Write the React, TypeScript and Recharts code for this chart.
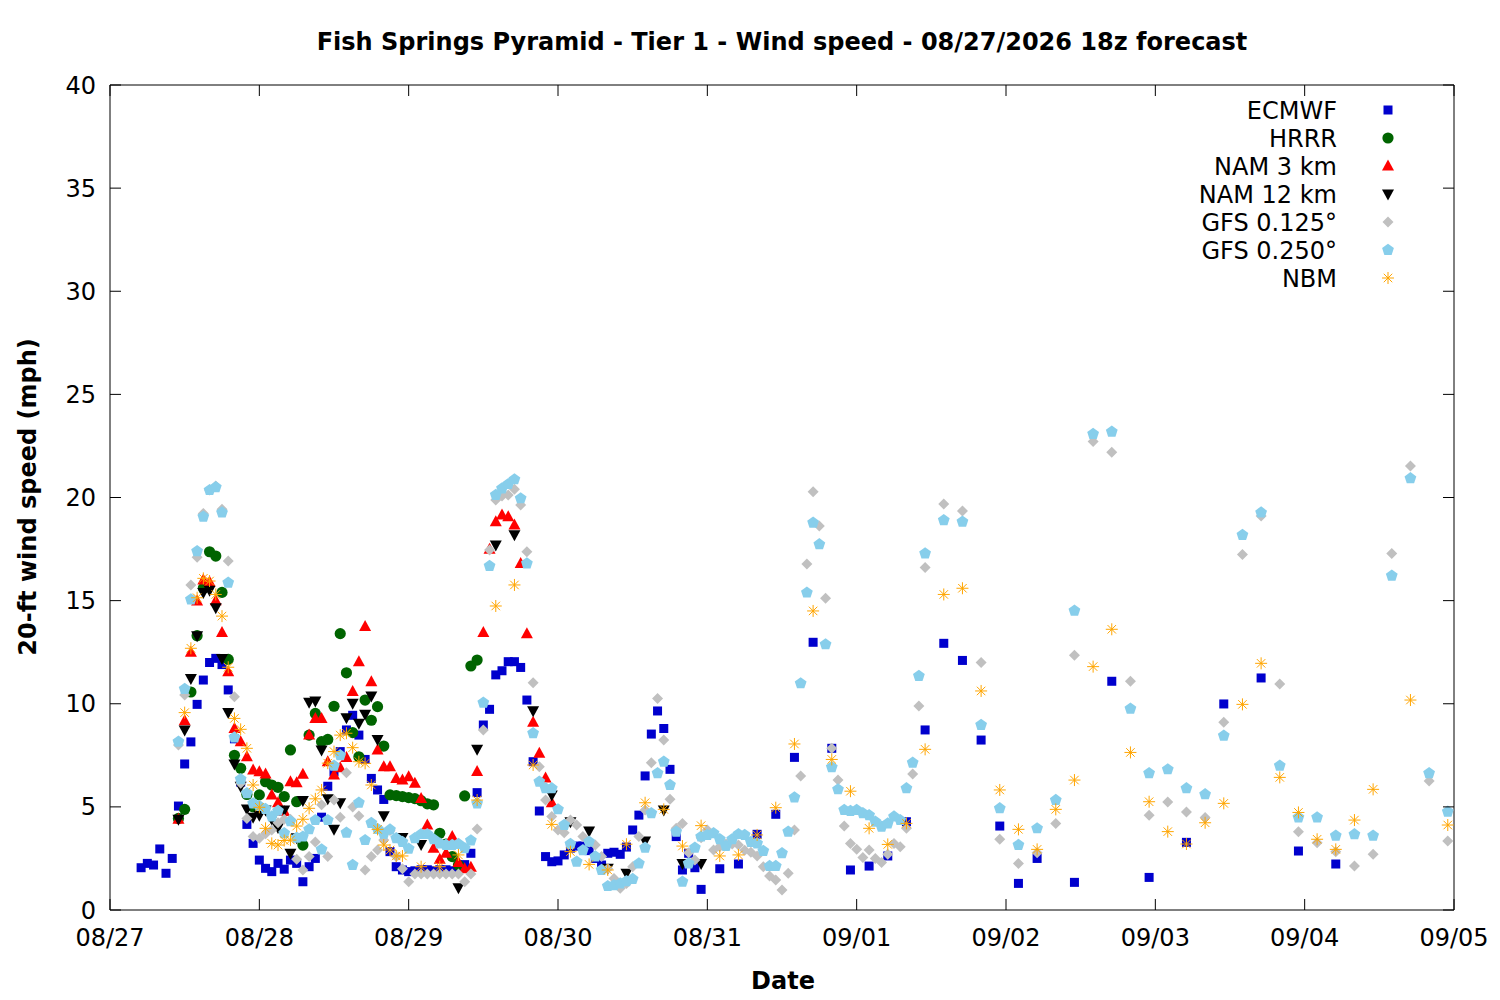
import React from 'react';
import { ScatterChart, Scatter, XAxis, YAxis, ReferenceArea, Legend } from 'recharts';

// hours since 08/27 00z
const dateTicks = [0, 24, 48, 72, 96, 120, 144, 168, 192, 216];
const dateLabels = ['08/27', '08/28', '08/29', '08/30', '08/31', '09/01', '09/02', '09/03', '09/04', '09/05'];
const speedTicks = [0, 5, 10, 15, 20, 25, 30, 35, 40];

const ecmwf: [number, number][] = [
  [5, 2.05], [6, 2.26], [7, 2.18], [8, 2.96], [9, 1.78], [10, 2.5], [11, 5.04], [12, 7.08], [13, 8.15], [14, 9.97],
  [15, 11.15], [16, 12.0], [17, 12.2], [18, 11.9], [19, 10.67], [20, 8.3], [21, 6.2], [22, 4.15], [23, 3.23], [24, 2.42],
  [25, 2.02], [26, 1.86], [27, 2.26], [28, 1.98], [29, 2.42], [30, 2.26], [31, 1.37], [32, 2.1], [33, 2.5], [34, 4.5],
  [35, 6.0], [36, 6.7], [37, 7.68], [38, 8.73], [39, 9.44], [40, 8.48], [41, 7.3], [42, 6.38], [43, 5.82], [44, 5.36],
  [45, 2.83], [46, 2.1], [47, 1.94], [48, 1.86], [49, 1.9], [50, 1.95], [51, 1.95], [52, 1.9], [53, 1.95], [54, 1.95],
  [55, 1.9], [56, 1.95], [57, 2.2], [58, 2.75], [59, 5.69], [60, 8.97], [61, 9.73], [62, 11.4], [63, 11.6], [64, 12.04],
  [65, 12.04], [66, 11.76], [67, 10.18], [68, 7.19], [69, 4.8], [70, 2.59], [71, 2.34], [72, 2.38], [73, 2.67], [74, 3.0],
  [75, 3.1], [76, 3.1], [77, 2.88], [78, 2.5], [79, 2.18], [80, 2.75], [81, 2.8], [82, 2.7], [83, 3.05], [84, 3.88],
  [85, 4.6], [86, 6.5], [87, 8.53], [88, 9.65], [89, 8.8], [90, 6.82], [91, 3.56], [92, 1.94], [93, 2.75], [94, 2.05],
  [95, 1.0], [98, 2.0], [101, 2.23], [104, 3.67], [107, 4.64], [110, 7.4], [113, 12.98], [116, 7.84], [119, 1.94],
  [122, 2.13], [125, 2.62], [128, 4.28], [131, 8.73], [134, 12.93], [137, 12.1], [140, 8.24], [143, 4.07], [146, 1.29],
  [149, 2.5], [155, 1.34], [161, 11.09], [167, 1.58], [173, 3.28], [179, 9.99], [185, 11.25], [191, 2.86], [197, 2.23],
];

const hrrr: [number, number][] = [
  [11, 4.44], [12, 4.88], [13, 10.57], [14, 13.3], [15, 15.6], [16, 17.37], [17, 17.16], [18, 15.4], [19, 12.15],
  [20, 7.5], [21, 6.87], [22, 5.6], [23, 5.0], [24, 5.58], [25, 6.22], [26, 6.06], [27, 5.95], [28, 5.5], [29, 7.76],
  [30, 5.25], [31, 3.15], [32, 8.48], [33, 9.53], [34, 8.16], [35, 8.27], [36, 9.88], [37, 13.4], [38, 11.5], [39, 8.6],
  [40, 7.43], [41, 10.18], [42, 9.2], [43, 9.86], [44, 7.95], [45, 5.58], [46, 5.55], [47, 5.5], [48, 5.45], [49, 5.4],
  [50, 5.3], [51, 5.15], [52, 5.1], [53, 3.72], [54, 3.2], [55, 2.59], [56, 2.18], [57, 5.53], [58, 11.83], [59, 12.12],
];

const nam3: [number, number][] = [
  [11, 4.4], [12, 9.18], [13, 12.5], [14, 14.98], [15, 16.0], [16, 15.9], [17, 15.0], [18, 13.45], [19, 11.55],
  [20, 8.8], [21, 8.16], [22, 7.43], [23, 6.79], [24, 6.7], [25, 6.6], [26, 5.58], [27, 5.2], [28, 4.77], [29, 6.22],
  [30, 6.17], [31, 6.58], [32, 8.48], [33, 9.29], [34, 9.29], [35, 7.19], [36, 6.55], [37, 6.9], [38, 7.4], [39, 10.59],
  [40, 12.04], [41, 13.74], [42, 11.07], [43, 7.76], [44, 6.95], [45, 6.95], [46, 6.38], [47, 6.3], [48, 6.46], [49, 6.14],
  [50, 5.41], [51, 4.12], [52, 2.99], [53, 2.46], [54, 2.75], [55, 3.56], [56, 2.3], [57, 2.0], [58, 2.07], [59, 6.71],
  [60, 13.45], [61, 17.49], [62, 18.83], [63, 19.15], [64, 19.07], [65, 18.67], [66, 16.8], [67, 13.4], [68, 9.1],
  [69, 7.6], [70, 6.4], [71, 5.2],
];

const nam12: [number, number][] = [
  [11, 4.4], [12, 8.73], [13, 11.23], [14, 13.3], [15, 15.4], [16, 15.5], [17, 14.66], [18, 12.2], [19, 9.57],
  [20, 7.08], [21, 6.0], [22, 4.9], [23, 4.5], [24, 4.6], [25, 4.85], [26, 4.4], [27, 4.0], [28, 4.85], [29, 2.75],
  [30, 3.5], [31, 5.31], [32, 10.07], [33, 10.13], [34, 7.76], [35, 5.4], [36, 3.91], [37, 5.2], [38, 9.32], [39, 10.02],
  [40, 9.05], [41, 9.49], [42, 10.38], [43, 8.27], [44, 4.57], [47, 3.51], [50, 3.18], [56, 1.08], [59, 7.79], [62, 17.7],
  [65, 18.2], [68, 9.66], [71, 5.58], [74, 4.28], [77, 3.83], [80, 2.02], [83, 1.78], [86, 3.35], [89, 4.85], [92, 2.26],
  [95, 2.26],
];

const gfs125: [number, number][] = [
  [11, 8.0], [12, 10.42], [13, 15.76], [14, 17.1], [15, 19.23], [16, 20.36], [17, 20.56], [18, 19.43], [19, 16.92],
  [20, 10.34], [21, 6.14], [22, 4.44], [23, 3.56], [24, 3.48], [25, 3.7], [26, 3.88], [27, 4.23], [28, 4.4], [29, 4.4],
  [30, 2.46], [31, 1.94], [32, 2.59], [33, 3.3], [34, 5.1], [35, 2.6], [36, 5.33], [37, 4.5], [38, 6.66], [39, 5.0],
  [40, 4.56], [41, 1.94], [42, 2.6], [43, 2.91], [44, 3.4], [45, 3.85], [46, 2.6], [47, 2.0], [48, 1.37], [49, 1.75],
  [50, 1.75], [51, 1.75], [52, 1.75], [53, 1.75], [54, 1.75], [55, 1.75], [56, 1.75], [57, 1.37], [58, 1.75], [59, 3.93],
  [60, 8.73], [61, 17.45], [62, 19.88], [63, 20.07], [64, 20.12], [65, 20.4], [66, 19.64], [67, 17.37], [68, 11.02],
  [69, 6.95], [70, 5.33], [71, 4.53], [72, 3.88], [73, 3.75], [74, 4.36], [75, 4.12], [76, 3.56], [77, 3.3], [78, 3.15],
  [79, 2.59], [80, 2.0], [81, 1.53], [82, 1.05], [83, 1.29], [84, 2.1], [85, 3.56], [86, 4.85], [87, 7.14], [88, 10.26],
  [89, 8.24], [90, 5.37], [91, 3.96], [92, 4.2], [93, 2.78], [94, 2.42], [95, 3.5], [96, 3.88], [97, 2.91], [98, 3.07],
  [99, 3.2], [100, 3.2], [101, 3.15], [102, 2.9], [103, 2.8], [104, 2.62], [105, 2.1], [106, 1.65], [107, 1.45],
  [108, 0.97], [109, 1.78], [110, 3.88], [111, 6.5], [112, 16.78], [113, 20.28], [114, 18.62], [115, 15.11], [116, 7.84],
  [117, 6.3], [118, 4.07], [119, 3.23], [120, 2.94], [121, 2.55], [122, 2.91], [123, 2.5], [124, 2.3], [125, 2.7],
  [126, 3.23], [127, 3.07], [128, 3.96], [129, 6.59], [130, 9.89], [131, 16.61], [134, 19.68], [137, 19.35], [140, 12.0],
  [143, 3.43], [146, 2.26], [149, 2.78], [152, 4.2], [155, 12.35], [158, 22.71], [161, 22.19], [164, 11.09], [167, 4.59],
  [170, 5.24], [173, 4.75], [176, 4.48], [179, 9.1], [182, 17.24], [185, 19.1], [188, 10.96], [191, 3.8], [194, 3.26],
  [197, 2.83], [200, 2.13], [203, 2.7], [206, 17.29], [209, 21.53], [212, 6.25], [215, 3.35],
];

const gfs250: [number, number][] = [
  [11, 8.16], [12, 10.72], [13, 15.06], [14, 17.4], [15, 19.07], [16, 20.36], [17, 20.5], [18, 19.27], [19, 15.87],
  [20, 8.37], [21, 6.34], [22, 5.66], [23, 5.17], [24, 5.04], [25, 4.9], [26, 4.53], [27, 4.81], [28, 3.72], [29, 4.3],
  [30, 3.5], [31, 3.56], [32, 3.91], [33, 4.36], [34, 2.94], [35, 4.36], [36, 7.0], [37, 7.5], [38, 3.75], [39, 2.18],
  [40, 5.2], [41, 3.39], [42, 4.22], [43, 3.93], [44, 3.7], [45, 3.9], [46, 3.48], [47, 3.3], [48, 2.97], [49, 3.48],
  [50, 3.68], [51, 3.68], [52, 3.43], [53, 3.23], [54, 3.15], [55, 3.15], [56, 3.2], [57, 3.0], [58, 3.37], [59, 5.17],
  [60, 10.05], [61, 16.68], [62, 20.12], [63, 20.44], [64, 20.65], [65, 20.88], [66, 19.96], [67, 16.8], [68, 8.57],
  [69, 6.22], [70, 5.9], [71, 5.9], [72, 4.88], [73, 4.12], [74, 3.2], [75, 2.34], [76, 2.9], [77, 3.31], [78, 2.6],
  [79, 1.94], [80, 1.16], [81, 1.2], [82, 1.29], [83, 1.4], [84, 1.5], [85, 2.26], [86, 3.02], [87, 4.69], [88, 6.63],
  [89, 7.19], [90, 6.06], [91, 3.8], [92, 1.37], [93, 2.26], [94, 3.02], [95, 3.56], [96, 3.64], [97, 3.72], [98, 3.43],
  [99, 3.1], [100, 3.43], [101, 3.68], [102, 3.64], [103, 3.3], [104, 3.23], [105, 2.86], [106, 2.13], [107, 2.13],
  [108, 2.75], [109, 3.8], [110, 5.46], [111, 10.99], [112, 15.39], [113, 18.78], [114, 17.73], [115, 12.88], [116, 6.92],
  [117, 5.85], [118, 4.85], [119, 4.8], [120, 4.85], [121, 4.69], [122, 4.6], [123, 4.28], [124, 4.04], [125, 4.2],
  [126, 4.53], [127, 4.36], [128, 5.9], [129, 7.14], [130, 11.35], [131, 17.29], [134, 18.9], [137, 18.83], [140, 8.97],
  [143, 4.93], [146, 3.15], [149, 3.96], [152, 5.33], [155, 14.51], [158, 23.08], [161, 23.19], [164, 9.76], [167, 6.63],
  [170, 6.82], [173, 5.9], [176, 5.61], [179, 8.45], [182, 18.18], [185, 19.27], [188, 7.0], [191, 4.49], [194, 4.49],
  [197, 3.6], [200, 3.67], [203, 3.6], [206, 16.21], [209, 20.93], [212, 6.63], [215, 4.77],
];

const nbm: [number, number][] = [
  [12, 9.57], [13, 12.69], [14, 15.14], [15, 16.08], [16, 15.95], [17, 15.3], [18, 14.25], [19, 11.77], [20, 9.29],
  [21, 8.76], [22, 7.84], [23, 6.06], [24, 4.98], [25, 3.96], [26, 3.23], [27, 3.15], [28, 3.37], [29, 3.39], [30, 4.07],
  [31, 4.4], [32, 4.93], [33, 5.39], [34, 5.82], [35, 7.12], [36, 7.68], [37, 8.48], [38, 8.57], [39, 7.87], [40, 7.19],
  [41, 7.11], [42, 6.06], [43, 3.91], [44, 3.15], [45, 2.91], [46, 2.62], [47, 2.62], [50, 2.1], [53, 2.1], [56, 2.67],
  [59, 5.33], [62, 14.74], [65, 15.76], [68, 7.03], [71, 4.15], [74, 2.83], [77, 2.21], [80, 1.94], [83, 3.19], [86, 5.2],
  [89, 4.88], [92, 3.1], [95, 4.09], [98, 2.62], [101, 2.67], [104, 3.64], [107, 4.96], [110, 8.05], [113, 14.5],
  [116, 7.3], [119, 5.76], [122, 3.96], [125, 3.18], [128, 4.2], [131, 7.79], [134, 15.3], [137, 15.6], [140, 10.62],
  [143, 5.82], [146, 3.91], [149, 2.94], [152, 4.88], [155, 6.3], [158, 11.8], [161, 13.61], [164, 7.64], [167, 5.25],
  [170, 3.8], [173, 3.2], [176, 4.23], [179, 5.17], [182, 9.97], [185, 11.96], [188, 6.43], [191, 4.73], [194, 3.43],
  [197, 2.94], [200, 4.36], [203, 5.85], [209, 10.18], [215, 4.12],
];

const FONT = "'DejaVu Sans', sans-serif";
const FONT_SIZE = 24;
const PLOT_LEFT = 110;
const PLOT_RIGHT = 1454;
const PLOT_TOP = 85;
const PLOT_BOTTOM = 910;
const TICK = 11;

type ShapeProps = { cx: number; cy: number; color: string };

const SquareMark = ({ cx, cy, color }: ShapeProps) => (
  <rect x={cx - 4.5} y={cy - 4.5} width={9} height={9} fill={color} />
);
const CircleMark = ({ cx, cy, color }: ShapeProps) => <circle cx={cx} cy={cy} r={5.6} fill={color} />;
const UpMark = ({ cx, cy, color }: ShapeProps) => (
  <polygon points={`${cx},${cy - 6.5} ${cx - 6},${cy + 4.5} ${cx + 6},${cy + 4.5}`} fill={color} />
);
const DownMark = ({ cx, cy, color }: ShapeProps) => (
  <polygon points={`${cx},${cy + 6.5} ${cx - 6},${cy - 4.5} ${cx + 6},${cy - 4.5}`} fill={color} />
);
const DiamondMark = ({ cx, cy, color }: ShapeProps) => (
  <polygon points={`${cx},${cy - 5.5} ${cx + 5.5},${cy} ${cx},${cy + 5.5} ${cx - 5.5},${cy}`} fill={color} />
);
const PentagonMark = ({ cx, cy, color }: ShapeProps) => {
  const pts = [0, 1, 2, 3, 4]
    .map((k) => {
      const a = ((-90 + k * 72) * Math.PI) / 180;
      return `${cx + 6.2 * Math.cos(a)},${cy + 6.2 * Math.sin(a)}`;
    })
    .join(' ');
  return <polygon points={pts} fill={color} />;
};
const StarMark = ({ cx, cy, color }: ShapeProps) => {
  const r = 6;
  const d = r * 0.7071;
  return (
    <g stroke={color} strokeWidth={1}>
      <line x1={cx - r} y1={cy} x2={cx + r} y2={cy} />
      <line x1={cx} y1={cy - r} x2={cx} y2={cy + r} />
      <line x1={cx - d} y1={cy - d} x2={cx + d} y2={cy + d} />
      <line x1={cx - d} y1={cy + d} x2={cx + d} y2={cy - d} />
    </g>
  );
};

const series = [
  { name: 'ECMWF', data: ecmwf, color: '#0000cd', Mark: SquareMark },
  { name: 'HRRR', data: hrrr, color: '#006400', Mark: CircleMark },
  { name: 'NAM 3 km', data: nam3, color: '#ff0000', Mark: UpMark },
  { name: 'NAM 12 km', data: nam12, color: '#000000', Mark: DownMark },
  { name: 'GFS 0.125°', data: gfs125, color: '#c0c0c0', Mark: DiamondMark },
  { name: 'GFS 0.250°', data: gfs250, color: '#87ceeb', Mark: PentagonMark },
  { name: 'NBM', data: nbm, color: '#ffa500', Mark: StarMark },
];

const XTick = (props: any) => {
  const { x, payload } = props;
  const label = dateLabels[dateTicks.indexOf(payload.value)];
  return (
    <g>
      <line x1={x} x2={x} y1={PLOT_BOTTOM} y2={PLOT_BOTTOM - TICK} stroke="#000" />
      <line x1={x} x2={x} y1={PLOT_TOP} y2={PLOT_TOP + TICK} stroke="#000" />
      <text x={x} y={946} textAnchor="middle" fontSize={FONT_SIZE} fontFamily={FONT} fill="#000">
        {label}
      </text>
    </g>
  );
};

const YTick = (props: any) => {
  const { y, payload } = props;
  return (
    <g>
      <line x1={PLOT_LEFT} x2={PLOT_LEFT + TICK} y1={y} y2={y} stroke="#000" />
      <line x1={PLOT_RIGHT} x2={PLOT_RIGHT - TICK} y1={y} y2={y} stroke="#000" />
      <text x={96} y={y + 8.5} textAnchor="end" fontSize={FONT_SIZE} fontFamily={FONT} fill="#000">
        {payload.value}
      </text>
    </g>
  );
};

const LegendBox = () => (
  <svg width={230} height={196}>
    {series.map((s, i) => (
      <g key={s.name}>
        <text x={157} y={14 + i * 28 + 8.5} textAnchor="end" fontSize={FONT_SIZE} fontFamily={FONT} fill="#000">
          {s.name}
        </text>
        <s.Mark cx={208} cy={14 + i * 28} color={s.color} />
      </g>
    ))}
  </svg>
);

export default function App() {
  return (
    <div style={{ position: 'absolute', left: 0, top: 0, width: 1500, height: 1000, background: '#fff', fontFamily: FONT }}>
      <div
        style={{
          position: 'absolute',
          left: PLOT_LEFT,
          width: PLOT_RIGHT - PLOT_LEFT,
          top: 28,
          textAlign: 'center',
          fontSize: FONT_SIZE,
          fontWeight: 'bold',
          lineHeight: '28px',
          zIndex: 2,
        }}
      >
        Fish Springs Pyramid - Tier 1 - Wind speed - 08/27/2026 18z forecast
      </div>
      <ScatterChart width={1500} height={1000} margin={{ top: PLOT_TOP, right: 1500 - PLOT_RIGHT, bottom: 0, left: 0 }}>
        <XAxis
          type="number"
          dataKey="t"
          domain={[0, 216]}
          ticks={dateTicks}
          interval={0}
          height={90}
          axisLine={false}
          tickLine={false}
          tick={<XTick />}
          label={{
            content: () => (
              <text x={783} y={989} textAnchor="middle" fontSize={FONT_SIZE} fontWeight="bold" fontFamily={FONT} fill="#000">
                Date
              </text>
            ),
          }}
        />
        <YAxis
          type="number"
          dataKey="v"
          domain={[0, 40]}
          ticks={speedTicks}
          interval={0}
          width={PLOT_LEFT}
          axisLine={false}
          tickLine={false}
          tick={<YTick />}
          label={{
            content: () => (
              <text
                x={28}
                y={497}
                transform="rotate(-90 28 497)"
                textAnchor="middle"
                dominantBaseline="central"
                fontSize={FONT_SIZE}
                fontWeight="bold"
                fontFamily={FONT}
                fill="#000"
              >
                20-ft wind speed (mph)
              </text>
            ),
          }}
        />
        <ReferenceArea x1={0} x2={216} y1={0} y2={40} fill="none" stroke="#000" strokeWidth={1} ifOverflow="visible" />
        {series.map((s) => (
          <Scatter
            key={s.name}
            name={s.name}
            data={s.data.map(([t, v]) => ({ t, v }))}
            isAnimationActive={false}
            shape={(p: any) => <s.Mark cx={p.cx} cy={p.cy} color={s.color} />}
          />
        ))}
        <Legend
          layout="vertical"
          align="center"
          verticalAlign="middle"
          wrapperStyle={{ left: 1180, top: 96, width: 230, height: 196 }}
          content={() => <LegendBox />}
        />
      </ScatterChart>
    </div>
  );
}
